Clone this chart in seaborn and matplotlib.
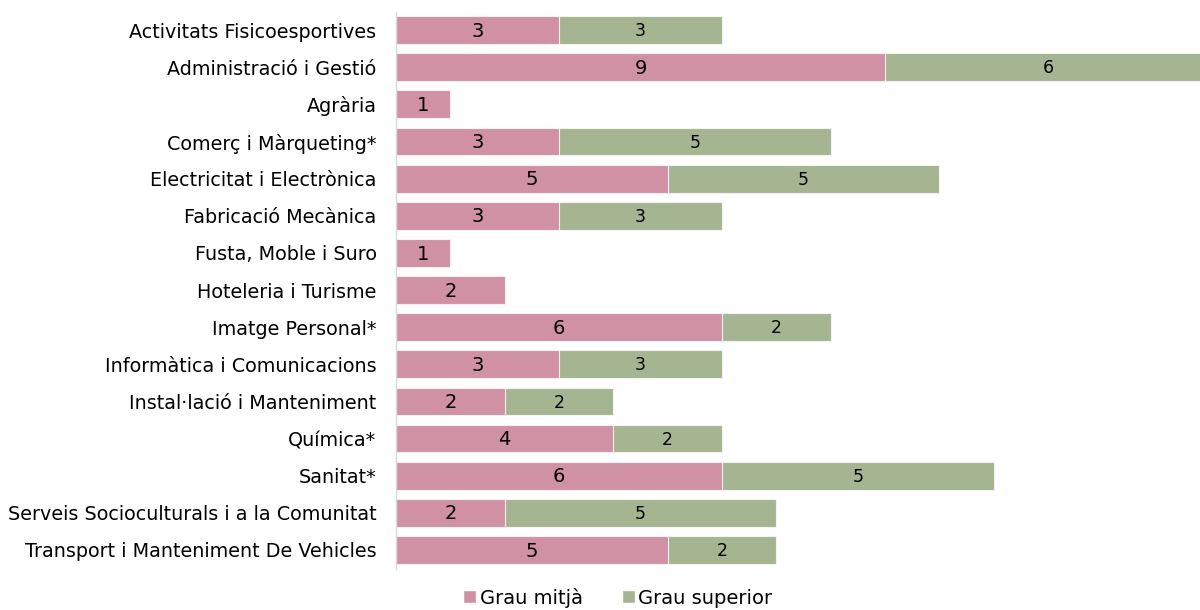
import pandas as pd
import numpy as np
import matplotlib.pyplot as plt
import seaborn as sns
from matplotlib.patches import Patch

families = ["Activitats Fisicoesportives", "Administració i Gestió", "Agrària",
            "Comerç i Màrqueting*", "Electricitat i Electrònica", "Fabricació Mecànica",
            "Fusta, Moble i Suro", "Hoteleria i Turisme", "Imatge Personal*",
            "Informàtica i Comunicacions", "Instal·lació i Manteniment", "Química*",
            "Sanitat*", "Serveis Socioculturals i a la Comunitat",
            "Transport i Manteniment De Vehicles"]
grau_mitja = [3, 9, 1, 3, 5, 3, 1, 2, 6, 3, 2, 4, 6, 2, 5]
grau_superior = [3, 6, 0, 5, 5, 3, 0, 0, 2, 3, 2, 2, 5, 5, 2]

pink = "#D091A5"
green = "#A6B591"

df = pd.DataFrame({"familia": families, "mitja": grau_mitja, "superior": grau_superior})
df["total"] = df["mitja"] + df["superior"]

sns.set_theme(style="white")
plt.rcParams["font.family"] = ["DejaVu Sans"]
plt.rcParams["text.color"] = "black"
plt.rcParams["ytick.color"] = "black"

fig = plt.figure(figsize=(12, 6.1), dpi=100)
ax = fig.add_axes([0.33, 0.068, 0.67, 0.913])

# total first (green), then the pink part on top of it
sns.barplot(data=df, x="total", y="familia", order=families, color=green, width=0.75,
            saturation=1, edgecolor="#f2f2f2", linewidth=0.8, ax=ax)
sns.barplot(data=df, x="mitja", y="familia", order=families, color=pink, width=0.75,
            saturation=1, edgecolor="#f2f2f2", linewidth=0.8, ax=ax)

for i, row in df.iterrows():
    ax.text(row["mitja"] / 2, i + 0.03, str(row["mitja"]), ha="center", va="center",
            fontsize=14, color="black")
    if row["superior"] > 0:
        ax.text(row["mitja"] + row["superior"] / 2, i + 0.03, str(row["superior"]),
                ha="center", va="center", fontsize=12.5, color="black")

ax.set_xlim(0, 14.8)
ax.set_ylim(14.5, -0.5)
ax.set_xlabel("")
ax.set_ylabel("")
ax.set_xticks([])
ax.tick_params(axis="y", length=0, pad=14, labelsize=13.8)
for s in ["top", "right", "bottom"]:
    ax.spines[s].set_visible(False)
ax.spines["left"].set_color("#D9D9D9")
ax.spines["left"].set_linewidth(1)

handles = [Patch(facecolor=pink, label="Grau mitjà"), Patch(facecolor=green, label="Grau superior")]
fig.legend(handles=handles, loc="lower center", bbox_to_anchor=(0.515, -0.025), ncol=2,
           frameon=False, fontsize=14, handlelength=0.65, handleheight=0.65,
           handletextpad=0.2, columnspacing=2.0)

fig.savefig("out.png", dpi=100)
